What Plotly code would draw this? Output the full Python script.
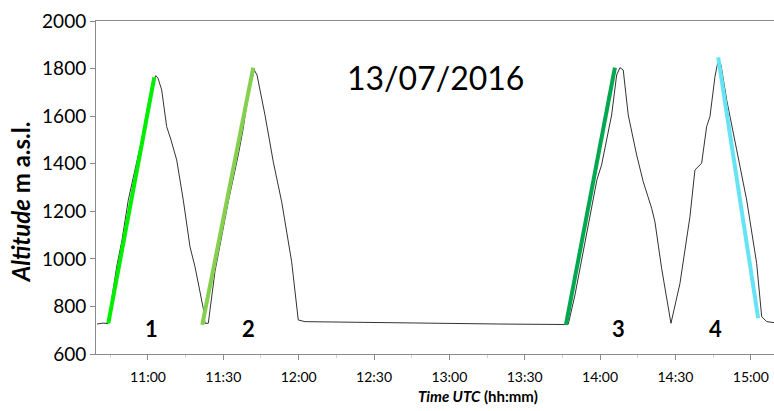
import plotly.graph_objects as go

# Altitude profile (black line)
profile_time = [
    "2016-07-13 10:39:44", "2016-07-13 10:42:07", "2016-07-13 10:44:06", "2016-07-13 10:47:34",
    "2016-07-13 10:49:41", "2016-07-13 10:52:11", "2016-07-13 10:54:51", "2016-07-13 10:57:31",
    "2016-07-13 10:59:38", "2016-07-13 11:01:30", "2016-07-13 11:03:06", "2016-07-13 11:04:00",
    "2016-07-13 11:05:29", "2016-07-13 11:07:28", "2016-07-13 11:09:11", "2016-07-13 11:11:27",
    "2016-07-13 11:14:05", "2016-07-13 11:16:45", "2016-07-13 11:18:44", "2016-07-13 11:22:02",
    "2016-07-13 11:22:43", "2016-07-13 11:24:02",
    "2016-07-13 11:26:41", "2016-07-13 11:29:05", "2016-07-13 11:31:59", "2016-07-13 11:35:58",
    "2016-07-13 11:37:50", "2016-07-13 11:39:57", "2016-07-13 11:42:20", "2016-07-13 11:43:26",
    "2016-07-13 11:46:36", "2016-07-13 11:49:54", "2016-07-13 11:53:15", "2016-07-13 11:57:13",
    "2016-07-13 11:59:51", "2016-07-13 12:02:31",
    "2016-07-13 12:40:20", "2016-07-13 13:20:08", "2016-07-13 13:46:00",
    "2016-07-13 13:47:20", "2016-07-13 13:50:00", "2016-07-13 13:53:58", "2016-07-13 13:56:38",
    "2016-07-13 13:58:44", "2016-07-13 14:00:36", "2016-07-13 14:02:42", "2016-07-13 14:04:36",
    "2016-07-13 14:06:36", "2016-07-13 14:07:54", "2016-07-13 14:09:13", "2016-07-13 14:11:12",
    "2016-07-13 14:14:33", "2016-07-13 14:17:11", "2016-07-13 14:20:31", "2016-07-13 14:21:50",
    "2016-07-13 14:24:30", "2016-07-13 14:27:49", "2016-07-13 14:28:13",
    "2016-07-13 14:31:48", "2016-07-13 14:35:46", "2016-07-13 14:37:46", "2016-07-13 14:39:05",
    "2016-07-13 14:40:26", "2016-07-13 14:42:25", "2016-07-13 14:43:44", "2016-07-13 14:45:44",
    "2016-07-13 14:47:02", "2016-07-13 14:48:08", "2016-07-13 14:50:24", "2016-07-13 14:54:23",
    "2016-07-13 14:58:22", "2016-07-13 15:02:20", "2016-07-13 15:04:20", "2016-07-13 15:06:20",
    "2016-07-13 15:09:14",
]
profile_alt = [
    726, 730, 728, 967,
    1079, 1247, 1374, 1500,
    1626, 1724, 1770, 1760,
    1710, 1556, 1500, 1416,
    1247, 1051, 967, 792,
    729, 729,
    946, 1079, 1240, 1437,
    1542, 1689, 1794, 1773,
    1605, 1408, 1240, 988,
    743, 736,
    730, 726, 724,
    725, 848, 1072, 1213,
    1332, 1395, 1500, 1605,
    1773, 1804, 1794, 1605,
    1437, 1324, 1213, 1156,
    960, 736, 729,
    897, 1177, 1374, 1387,
    1402, 1556, 1598, 1766,
    1836, 1815, 1668, 1458,
    1247, 981, 757, 736,
    732,
]

# Fitted ascent/descent segments
seg_names = ["1", "2", "3", "4"]
seg_start_time = ["2016-07-13 10:44:14", "2016-07-13 11:21:38", "2016-07-13 13:46:24", "2016-07-13 14:47:01"]
seg_end_time = ["2016-07-13 11:02:32", "2016-07-13 11:41:56", "2016-07-13 14:05:54", "2016-07-13 15:02:56"]
seg_start_alt = [729, 722, 722, 1847]
seg_end_alt = [1763, 1804, 1804, 750]
seg_colors = ["#00ee00", "#86d04f", "#00a84f", "#66e3f4"]

# Segment number labels
label_time = ["2016-07-13 11:01:14", "2016-07-13 11:40:14", "2016-07-13 14:07:08", "2016-07-13 14:46:08"]
label_alt = [709, 709, 709, 709]

tick_vals = ["2016-07-13 11:00", "2016-07-13 11:30", "2016-07-13 12:00", "2016-07-13 12:30",
             "2016-07-13 13:00", "2016-07-13 13:30", "2016-07-13 14:00", "2016-07-13 14:30",
             "2016-07-13 15:00"]
tick_text = ["11:00", "11:30", "12:00", "12:30", "13:00", "13:30", "14:00", "14:30", "15:00"]

FONT = "Lato"

fig = go.Figure()
fig.add_trace(go.Scatter(x=profile_time, y=profile_alt, mode="lines",
                         line=dict(color="#333333", width=1), showlegend=False, hoverinfo="skip"))
for i in range(len(seg_names)):
    fig.add_trace(go.Scatter(x=[seg_start_time[i], seg_end_time[i]],
                             y=[seg_start_alt[i], seg_end_alt[i]], mode="lines",
                             line=dict(color=seg_colors[i], width=4), showlegend=False))

for i in range(len(seg_names)):
    fig.add_annotation(x=label_time[i], y=label_alt[i], text="<b>" + seg_names[i] + "</b>",
                       xanchor="center", yanchor="middle",
                       showarrow=False, font=dict(family=FONT, size=22, color="black"))

fig.add_annotation(x=0.5, y=0.829, xref="paper", yref="paper", text="13/07/2016",
                   xanchor="center", yanchor="middle",
                   showarrow=False, font=dict(family=FONT, size=32, color="black"))
fig.add_annotation(x=-0.111, y=0.458, xref="paper", yref="paper",
                   text="<b><i>Altitude</i> m a.s.l.</b>", textangle=-90,
                   xanchor="center", yanchor="middle",
                   showarrow=False, font=dict(family=FONT, size=24, color="black"))
fig.add_annotation(x=0.563, y=-0.126, xref="paper", yref="paper",
                   text="<b><i>Time UTC</i> (hh:mm)</b>", xanchor="center", yanchor="middle",
                   showarrow=False, font=dict(family=FONT, size=15, color="black"))

fig.update_layout(
    width=774, height=411,
    margin=dict(l=96, r=0, t=21, b=57),
    paper_bgcolor="white", plot_bgcolor="white",
    xaxis=dict(type="date", range=["2016-07-13 10:39:20", "2016-07-13 15:09:14"],
               tickvals=tick_vals, ticktext=tick_text, tickangle=0,
               showgrid=False, zeroline=False,
               showline=True, linecolor="#8a8a8a", linewidth=1, mirror=True,
               ticks="outside", ticklen=5, tickcolor="#8a8a8a",
               ticklabelstandoff=5,
               minor=dict(ticks="outside", dtick=15 * 60 * 1000, ticklen=3,
                          tickcolor="#d0d0d0", showgrid=False),
               tickfont=dict(family=FONT, size=14, color="black")),
    yaxis=dict(range=[600, 2000], dtick=200, showgrid=False, zeroline=False,
               showline=True, linecolor="#8a8a8a", linewidth=1,
               ticks="outside", ticklen=5, tickcolor="#8a8a8a",
               tickfont=dict(family=FONT, size=19, color="black")),
)

# remove the default page margin so the figure fills the 774x411 window exactly
fig.write_html("out.html",
               config={"displayModeBar": False},
               post_script="document.body.style.margin='0';document.body.style.overflow='hidden';")
